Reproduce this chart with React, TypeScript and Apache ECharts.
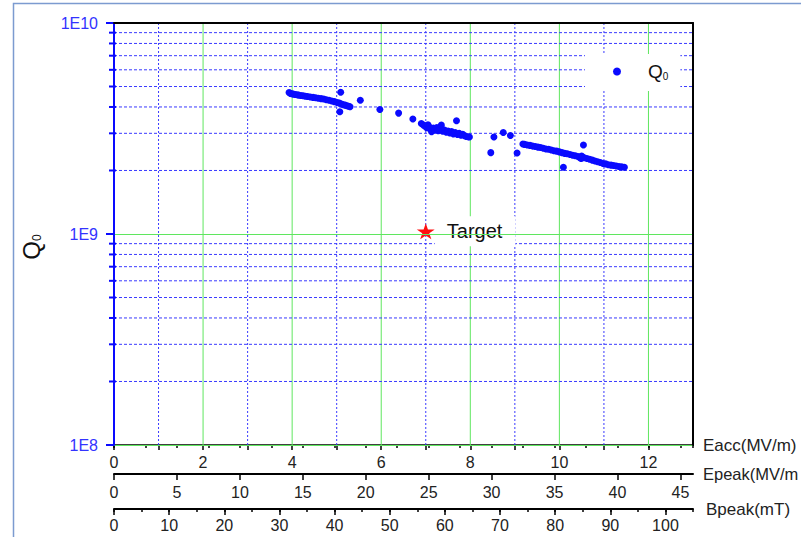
import React, { useEffect, useRef } from 'react';
import * as echarts from 'echarts';

// Measured Q0 vs Eacc (MV/m)
const eaccValues = [
  3.93, 3.96, 3.99, 4.03, 4.07, 4.11, 4.15, 4.20, 4.25, 4.30, 4.35, 4.41, 4.47, 4.53, 4.59, 4.65, 4.71, 4.77, 4.83, 4.89,
  4.95, 5.01, 5.06, 5.11, 5.15, 5.19, 5.23, 5.27, 5.30,
  5.09, 5.07, 5.53, 5.97, 6.39, 6.71,
  6.90, 6.95, 6.99, 7.02, 7.05, 7.08, 7.10, 7.13, 7.17, 7.21, 7.25, 7.28, 7.32, 7.35, 7.38, 7.42, 7.46, 7.50, 7.54, 7.58,
  7.62, 7.66, 7.69, 7.71, 7.75, 7.79, 7.83, 7.87, 7.91, 7.95, 7.98,
  8.46, 8.53, 8.74, 8.90, 9.05,
  9.18, 9.22, 9.28, 9.34, 9.40, 9.46, 9.52, 9.58, 9.64, 9.70, 9.76, 9.82, 9.88, 9.94, 10.00, 10.06, 10.12, 10.18, 10.24,
  10.30, 10.36, 10.42, 10.46, 10.49, 10.50, 10.52, 10.56, 10.62, 10.68, 10.74, 10.80, 10.86, 10.92, 10.98, 11.04, 11.10,
  11.16, 11.22, 11.28, 11.34, 11.40, 11.46,
  10.54, 10.09,
];
const q0Values = [
  4.68e9, 4.64e9, 4.62e9, 4.60e9, 4.58e9, 4.57e9, 4.55e9, 4.53e9, 4.52e9, 4.50e9, 4.48e9, 4.46e9, 4.44e9, 4.42e9, 4.40e9, 4.38e9, 4.36e9, 4.33e9, 4.30e9, 4.27e9,
  4.24e9, 4.20e9, 4.17e9, 4.13e9, 4.10e9, 4.08e9, 4.05e9, 4.03e9, 4.01e9,
  4.70e9, 3.80e9, 4.30e9, 3.89e9, 3.74e9, 3.51e9,
  3.34e9, 3.28e9, 3.24e9, 3.19e9, 3.29e9, 3.21e9, 3.14e9, 3.05e9, 3.18e9, 3.12e9, 3.20e9, 3.09e9, 3.14e9, 3.28e9, 3.07e9, 3.11e9, 3.04e9, 3.08e9, 3.01e9, 3.06e9,
  2.98e9, 3.03e9, 3.44e9, 2.96e9, 3.00e9, 2.94e9, 2.97e9, 2.92e9, 2.90e9, 2.89e9, 2.88e9,
  2.43e9, 2.88e9, 3.03e9, 2.93e9, 2.42e9,
  2.67e9, 2.66e9, 2.64e9, 2.63e9, 2.61e9, 2.60e9, 2.58e9, 2.57e9, 2.55e9, 2.53e9, 2.52e9, 2.50e9, 2.48e9, 2.47e9, 2.45e9, 2.43e9, 2.41e9, 2.40e9, 2.38e9,
  2.36e9, 2.35e9, 2.33e9, 2.30e9, 2.28e9, 2.34e9, 2.31e9, 2.30e9, 2.28e9, 2.26e9, 2.24e9, 2.22e9, 2.20e9, 2.18e9, 2.16e9, 2.15e9, 2.13e9,
  2.12e9, 2.11e9, 2.10e9, 2.09e9, 2.08e9, 2.07e9,
  2.64e9, 2.07e9,
];

const targetPoint = [7, 1.03e9];

// Grid / tick positions
const eaccMajorGrid = [2, 4, 6, 8, 10, 12];
const eaccMinorGrid = [1, 3, 5, 7, 9, 11];
const qMinorTicks = [2e8, 3e8, 4e8, 5e8, 6e8, 7e8, 8e8, 9e8, 2e9, 3e9, 4e9, 5e9, 6e9, 7e9, 8e9, 9e9];

const EACC_MAX = 13;
const EPEAK_MAX = 46;
const BPEAK_MAX = 105;
const Q_MIN = 1e8;
const Q_MAX = 1e10;

const FONT = 'Arial';
const BLUE = '#0a0aff';
const GRID_BLUE = '#3a3aff';
const GREEN = '#5fe65f';
const TEXT = '#222';

const STAR =
  'path://M50,0 L61.8,35.1 L98.9,35.1 L68.9,56.8 L80.3,91.9 L50,70.2 L19.7,91.9 L31.1,56.8 L1.1,35.1 L38.2,35.1 Z';

export default function App() {
  const ref = useRef<HTMLDivElement>(null);

  useEffect(() => {
    const chart = echarts.init(ref.current!, null, { renderer: 'svg' });

    const hiddenLabel = { show: false };
    const xBase = (extra: any) => ({
      type: 'value',
      position: 'bottom',
      min: 0,
      splitLine: { show: false },
      axisLine: { show: true, onZero: false, lineStyle: { color: '#000', width: 2 } },
      ...extra,
    });

    const option: any = {
      animation: false,
      textStyle: { fontFamily: FONT },
      grid: { left: 114, top: 23, width: 579, height: 422, containLabel: false, outerBoundsMode: 'none' },
      legend: {
        data: [{ name: 'Q0', icon: 'circle' }],
        left: 585,
        top: 54,
        padding: [8, 12, 10, 28],
        backgroundColor: '#fff',
        itemWidth: 8,
        itemHeight: 8,
        formatter: () => '{q|Q}{s|0}',
        textStyle: {
          fontSize: 19,
          fontFamily: FONT,
          rich: {
            q: { fontSize: 19, color: '#111', padding: [0, 0, 0, 22], fontFamily: FONT },
            s: { fontSize: 10, color: '#111', verticalAlign: 'bottom', fontFamily: FONT },
          },
        },
      },
      xAxis: [
        xBase({
          max: EACC_MAX,
          interval: 1,
          name: 'Eacc(MV/m)',
          nameLocation: 'end',
          nameGap: 10,
          nameTextStyle: { fontSize: 17, color: TEXT, align: 'left', verticalAlign: 'middle', padding: [16, 0, 0, 0] },
          axisLine: { show: true, onZero: false, lineStyle: { color: '#000', width: 1.5 } },
          axisTick: { show: true, length: 5, lineStyle: { color: '#000', width: 1.5 } },
          axisLabel: {
            fontSize: 16,
            color: TEXT,
            margin: 9,
            showMaxLabel: false,
            formatter: (v: number) => (v % 2 === 0 ? String(v) : ''),
          },
        }),
        xBase({
          max: EPEAK_MAX,
          interval: 5,
          offset: 29,
          name: 'Epeak(MV/m',
          nameLocation: 'end',
          nameGap: 10,
          nameTextStyle: { fontSize: 16.5, color: TEXT, align: 'left', verticalAlign: 'middle', padding: [12, 0, 0, 0] },
          axisTick: { show: true, length: 6, lineStyle: { color: '#000', width: 1.5 } },
          axisLabel: { fontSize: 16, color: TEXT, margin: 10, showMaxLabel: false },
        }),
        xBase({
          max: EPEAK_MAX,
          interval: 2.5,
          offset: 29,
          axisLine: { show: false },
          axisTick: { show: true, length: 3, lineStyle: { color: '#000', width: 1.5 } },
          axisLabel: hiddenLabel,
        }),
        xBase({
          max: BPEAK_MAX,
          interval: 10,
          offset: 64,
          name: 'Bpeak(mT)',
          nameLocation: 'end',
          nameGap: 13,
          nameTextStyle: { fontSize: 17, color: TEXT, align: 'left', verticalAlign: 'middle', padding: [15, 0, 0, 0] },
          axisTick: { show: true, length: 6, lineStyle: { color: '#000', width: 1.5 } },
          axisLabel: { fontSize: 16, color: TEXT, margin: 8, showMaxLabel: false },
        }),
        xBase({
          max: BPEAK_MAX,
          interval: 5,
          offset: 64,
          axisLine: { show: false },
          axisTick: { show: true, length: 3, lineStyle: { color: '#000', width: 1.5 } },
          axisLabel: hiddenLabel,
        }),
        xBase({
          position: 'top',
          max: EACC_MAX,
          z: 10,
          axisTick: { show: false },
          axisLabel: hiddenLabel,
        }),
      ],
      yAxis: [
        {
          type: 'log',
          logBase: 10,
          min: Q_MIN,
          max: Q_MAX,
          position: 'left',
          z: 5,
          axisLine: { show: true, onZero: false, lineStyle: { color: BLUE, width: 2 } },
          axisTick: { show: true, length: 8, lineStyle: { color: BLUE, width: 2 } },
          axisLabel: {
            fontSize: 16,
            color: '#3333ff',
            margin: 16,
            formatter: (v: number) => '1E' + Math.round(Math.log10(v)),
          },
          splitLine: { show: true, lineStyle: { color: GREEN, width: 1, type: 'solid' } },
        },
        {
          type: 'value',
          min: 0,
          max: 1,
          position: 'right',
          z: 10,
          axisLine: { show: true, onZero: false, lineStyle: { color: '#000', width: 2 } },
          axisTick: { show: false },
          axisLabel: hiddenLabel,
          splitLine: { show: false },
        },
      ],
      graphic: [
        {
          type: 'rect',
          silent: true,
          shape: { x: 13.5, y: 3.5, width: 900, height: 700 },
          style: { fill: 'none', stroke: '#7c9bd0', lineWidth: 1.5 },
        },
        {
          type: 'text',
          x: 31,
          y: 247,
          rotation: Math.PI / 2,
          style: {
            text: '{q|Q}{s|0}',
            align: 'center',
            verticalAlign: 'middle',
            font: '24px Arial',
            rich: {
              q: { font: '24px Arial', fontSize: 24, fill: '#111' },
              s: { font: '12px Arial', fontSize: 12, fill: '#111', verticalAlign: 'bottom' },
            },
          },
        },
      ],
      series: [
        {
          type: 'custom',
          name: 'vgridMajor',
          silent: true,
          z: 1,
          clip: false,
          xAxisIndex: 0,
          yAxisIndex: 0,
          data: eaccMajorGrid.map((v) => [v, 1e9]),
          renderItem: (params: any, api: any) => {
            const x = api.value(0);
            const a = api.coord([x, Q_MIN]);
            const b = api.coord([x, Q_MAX]);
            return {
              type: 'line',
              shape: { x1: a[0], y1: a[1], x2: b[0], y2: b[1] },
              style: { stroke: GREEN, lineWidth: 1 },
            };
          },
        },
        {
          type: 'custom',
          name: 'vgridMinor',
          silent: true,
          z: 1,
          clip: false,
          xAxisIndex: 0,
          yAxisIndex: 0,
          data: eaccMinorGrid.map((v) => [v, 1e9]),
          renderItem: (params: any, api: any) => {
            const x = api.value(0);
            const a = api.coord([x, Q_MIN]);
            const b = api.coord([x, Q_MAX]);
            return {
              type: 'line',
              shape: { x1: a[0], y1: a[1], x2: b[0], y2: b[1] },
              style: { stroke: GRID_BLUE, lineWidth: 1, lineDash: [2, 2] },
            };
          },
        },
        {
          type: 'custom',
          name: 'hgridMinor',
          silent: true,
          z: 1,
          clip: false,
          xAxisIndex: 0,
          yAxisIndex: 0,
          data: qMinorTicks.map((v) => [0, v]),
          renderItem: (params: any, api: any) => {
            const y = api.value(1);
            const a = api.coord([0, y]);
            const b = api.coord([EACC_MAX, y]);
            return {
              type: 'group',
              children: [
                {
                  type: 'line',
                  shape: { x1: a[0], y1: a[1], x2: b[0], y2: b[1] },
                  style: { stroke: GRID_BLUE, lineWidth: 1, lineDash: [3, 2] },
                },
                {
                  type: 'line',
                  shape: { x1: a[0] - 5, y1: a[1], x2: a[0] + 2, y2: a[1] },
                  style: { stroke: BLUE, lineWidth: 2 },
                },
              ],
            };
          },
        },
        {
          type: 'scatter',
          name: 'Q0',
          z: 3,
          xAxisIndex: 0,
          yAxisIndex: 0,
          symbol: 'circle',
          symbolSize: 7,
          itemStyle: { color: BLUE, opacity: 1 },
          data: eaccValues.map((e, i) => [e, q0Values[i]]),
        },
        {
          type: 'scatter',
          name: 'Target',
          z: 4,
          xAxisIndex: 0,
          yAxisIndex: 0,
          symbol: STAR,
          symbolSize: [18, 16],
          itemStyle: { color: '#ff1010', opacity: 1 },
          label: {
            show: true,
            position: 'right',
            distance: 0,
            formatter: 'Target',
            fontSize: 20,
            color: '#111',
            backgroundColor: '#fff',
            padding: [5, 13, 5, 12],
            fontFamily: FONT,
          },
          data: [targetPoint],
        },
      ],
    };

    chart.setOption(option);
    return () => chart.dispose();
  }, []);

  return (
    <div
      ref={ref}
      style={{ position: 'fixed', left: 0, top: 0, width: 801, height: 537, background: '#fff' }}
    />
  );
}
